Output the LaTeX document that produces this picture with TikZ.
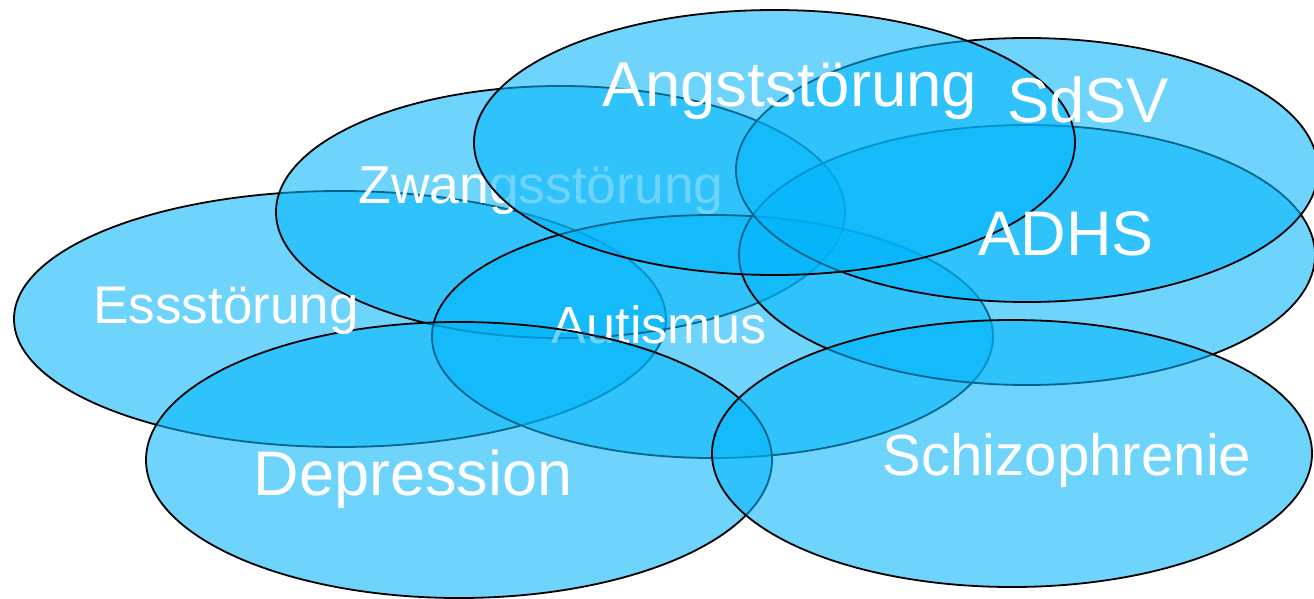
\documentclass[tikz,border=0pt]{standalone}
\usepackage{fontspec}
\setmainfont{Liberation Sans}
\definecolor{blob}{RGB}{0,180,250}
\tikzset{
  blobshape/.style={draw=black, line width=1.8bp, fill=blob, fill opacity=0.57},
  lbl/.style={text=white, inner sep=0pt, anchor=base, font=#1},
}
\newcommand{\fs}[1]{\fontsize{#1pt}{#1pt}\selectfont}
\begin{document}
\begin{tikzpicture}[x=1bp,y=-1bp]
\useasboundingbox (0,0) rectangle (1314,599);
% Essstoerung
\path[blobshape] (340,319) ellipse [x radius=326bp, y radius=128bp];
% Zwangsstoerung
\path[blobshape] (560.5,212) ellipse [x radius=284.5bp, y radius=126bp];
\node[lbl=\fs{53.6}] (zwang) at (541,203) {Zwangsstörung};
% Autismus
\path[blobshape] (712.5,336.5) ellipse [x radius=280.5bp, y radius=121.5bp];
\node[lbl=\fs{52.4}] (autismus) at (659,343) {Autismus};
% ADHS
\path[blobshape] (1027,255) ellipse [x radius=288bp, y radius=130bp];
% SdSV
\path[blobshape] (1027,170) ellipse [x radius=291bp, y radius=132bp];
% Angststoerung
\path[blobshape] (774.5,142.5) ellipse [x radius=300.5bp, y radius=132.5bp];
% Depression
\path[blobshape] (459,460) ellipse [x radius=313bp, y radius=138bp];
% Schizophrenie
\path[blobshape] (1012,453.5) ellipse [x radius=300bp, y radius=133.5bp];
% labels on top
\node[lbl=\fs{53.2}] (ess) at (226,323) {Essstörung};
\node[lbl=\fs{63.8}] (angst) at (790,107) {Angststörung};
\node[lbl=\fs{63.5}] (sdsv) at (1088,123) {SdSV};
\node[lbl=\fs{63.3}] (adhs) at (1066,255) {ADHS};
\node[lbl=\fs{63.2}] (depr) at (413,495) {Depression};
\node[lbl=\fs{58.4}] (schizo) at (1067,475) {Schizophrenie};
\end{tikzpicture}
\end{document}
